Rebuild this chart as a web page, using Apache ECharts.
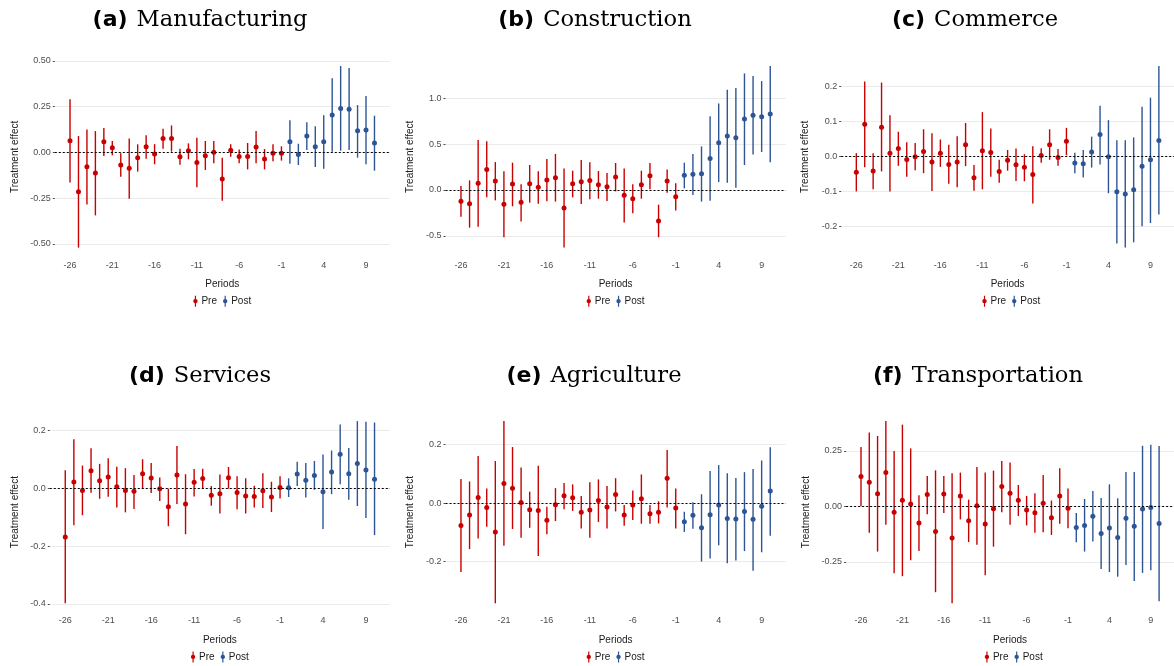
<!DOCTYPE html>
<html>
<head>
<meta charset="utf-8">
<script src="https://cdn.jsdelivr.net/npm/echarts@6/dist/echarts.min.js"></script>
<style>html,body{margin:0;padding:0;background:#fff;}#c{width:1174px;height:666px;}</style>
</head>
<body>
<div id="c"></div>
<script>
const periods = [-26,-25,-24,-23,-22,-21,-20,-19,-18,-17,-16,-15,-14,-13,-12,-11,-10,-9,-8,-7,-6,-5,-4,-3,-2,-1,0,1,2,3,4,5,6,7,8,9,10];
const xTicks = [-26,-21,-16,-11,-6,-1,4,9];

const titleLetters = ['(a)','(b)','(c)','(d)','(e)','(f)'];
const titleNames = ['Manufacturing','Construction','Commerce','Services','Agriculture','Transportation'];
const groupNames = ['Pre','Post'];

// (a) Manufacturing
const aEst = [0.064,-0.215,-0.078,-0.113,0.058,0.025,-0.069,-0.087,-0.029,0.031,-0.009,0.076,0.076,-0.024,0.009,-0.055,-0.018,0.0,-0.145,0.011,-0.022,-0.022,0.029,-0.036,-0.005,-0.005,0.058,-0.011,0.089,0.031,0.058,0.204,0.24,0.236,0.118,0.122,0.051];
const aLo  = [-0.165,-0.52,-0.284,-0.344,-0.02,-0.016,-0.133,-0.253,-0.105,-0.035,-0.065,0.02,0.004,-0.067,-0.038,-0.19,-0.096,-0.06,-0.264,-0.024,-0.06,-0.093,-0.06,-0.093,-0.049,-0.045,-0.062,-0.069,0.013,-0.08,-0.089,0.004,0.009,0.013,-0.029,-0.065,-0.1];
const aHi  = [0.29,0.089,0.125,0.116,0.133,0.062,-0.005,0.076,0.044,0.093,0.045,0.129,0.147,0.02,0.049,0.08,0.062,0.062,-0.029,0.044,0.015,0.051,0.116,0.018,0.044,0.033,0.175,0.047,0.165,0.142,0.202,0.404,0.471,0.46,0.258,0.307,0.2];
const aTicks = [-0.5,-0.25,0,0.25,0.5];

// (b) Construction
const bEst = [-0.124,-0.149,0.073,0.225,0.098,-0.156,0.065,-0.135,0.069,0.029,0.109,0.135,-0.196,0.069,0.091,0.105,0.058,0.036,0.142,-0.058,-0.095,0.058,0.156,-0.338,0.098,-0.073,0.16,0.171,0.178,0.345,0.516,0.589,0.571,0.775,0.815,0.8,0.829];
const bLo  = [-0.291,-0.411,-0.4,-0.08,-0.113,-0.516,-0.178,-0.345,-0.138,-0.149,-0.124,-0.127,-0.629,-0.08,-0.153,-0.102,-0.095,-0.12,-0.015,-0.356,-0.255,-0.095,0.007,-0.516,-0.029,-0.225,0.018,-0.055,-0.127,-0.116,0.087,0.08,0.025,0.273,0.389,0.415,0.302];
const bHi  = [0.044,0.105,0.545,0.531,0.305,0.204,0.298,0.062,0.273,0.204,0.338,0.393,0.236,0.211,0.327,0.302,0.207,0.185,0.295,0.236,0.062,0.211,0.295,-0.16,0.225,0.073,0.298,0.393,0.476,0.804,0.945,1.095,1.113,1.273,1.244,1.189,1.353];
const bTicks = [-0.5,0,0.5,1.0];

// (c) Commerce
const cEst = [-0.045,0.091,-0.042,0.083,0.009,0.022,-0.009,-0.001,0.014,-0.016,0.009,-0.023,-0.016,0.033,-0.061,0.016,0.011,-0.043,-0.011,-0.024,-0.031,-0.052,0.002,0.033,-0.003,0.043,-0.019,-0.021,0.012,0.062,-0.001,-0.101,-0.107,-0.095,-0.028,-0.01,0.045];
const cLo  = [-0.1,-0.031,-0.094,-0.043,-0.1,-0.027,-0.058,-0.04,-0.048,-0.099,-0.03,-0.078,-0.088,-0.028,-0.098,-0.094,-0.058,-0.075,-0.041,-0.07,-0.071,-0.134,-0.018,-0.01,-0.027,0.003,-0.048,-0.06,-0.032,-0.023,-0.105,-0.248,-0.26,-0.245,-0.199,-0.19,-0.166];
const cHi  = [0.009,0.213,0.009,0.21,0.117,0.07,0.04,0.038,0.077,0.066,0.048,0.033,0.057,0.095,-0.025,0.126,0.079,-0.01,0.018,0.022,0.006,0.029,0.023,0.077,0.021,0.081,0.01,0.018,0.056,0.144,0.103,0.046,0.046,0.054,0.141,0.167,0.257];
const cTicks = [-0.2,-0.1,0,0.1,0.2];

// (d) Services
const dEst = [-0.168,0.022,-0.007,0.061,0.026,0.039,0.006,-0.007,-0.01,0.051,0.036,-0.001,-0.064,0.046,-0.054,0.021,0.034,-0.024,-0.019,0.037,-0.014,-0.026,-0.028,-0.008,-0.03,0.003,0.002,0.05,0.028,0.045,-0.012,0.057,0.118,0.051,0.086,0.064,0.032];
const dLo  = [-0.398,-0.128,-0.093,-0.015,-0.036,-0.029,-0.066,-0.083,-0.071,0.0,-0.016,-0.044,-0.131,-0.054,-0.159,-0.028,-0.002,-0.06,-0.087,-0.001,-0.072,-0.087,-0.066,-0.068,-0.082,-0.035,-0.03,0.008,-0.032,-0.005,-0.141,-0.02,0.014,-0.039,-0.061,-0.103,-0.162];
const dHi  = [0.063,0.17,0.079,0.139,0.085,0.104,0.075,0.07,0.046,0.101,0.088,0.038,-0.001,0.147,0.049,0.067,0.068,0.008,0.048,0.074,0.042,0.035,0.009,0.052,0.023,0.042,0.035,0.092,0.088,0.095,0.117,0.131,0.221,0.14,0.233,0.231,0.228];
const dTicks = [-0.4,-0.2,0,0.2];

// (e) Agriculture
const eEst = [-0.077,-0.041,0.019,-0.015,-0.099,0.067,0.051,0.002,-0.023,-0.026,-0.059,-0.006,0.025,0.018,-0.032,-0.024,0.009,-0.014,0.029,-0.041,-0.007,0.015,-0.037,-0.032,0.085,-0.017,-0.064,-0.042,-0.085,-0.04,-0.007,-0.053,-0.055,-0.029,-0.056,-0.011,0.041];
const eLo  = [-0.237,-0.158,-0.122,-0.081,-0.344,-0.147,-0.089,-0.119,-0.085,-0.182,-0.107,-0.062,-0.021,-0.027,-0.087,-0.119,-0.065,-0.087,-0.029,-0.078,-0.058,-0.071,-0.071,-0.07,-0.015,-0.087,-0.099,-0.088,-0.201,-0.19,-0.145,-0.207,-0.197,-0.165,-0.232,-0.169,-0.112];
const eHi  = [0.082,0.074,0.161,0.05,0.144,0.281,0.192,0.122,0.039,0.128,-0.013,0.051,0.069,0.064,0.024,0.071,0.081,0.058,0.085,-0.007,0.043,0.098,-0.007,0.006,0.182,0.05,-0.03,0.003,0.03,0.11,0.13,0.102,0.086,0.106,0.117,0.146,0.191];
const eTicks = [-0.2,0,0.2];

// (f) Transportation
const fEst = [0.134,0.108,0.057,0.152,-0.027,0.027,0.011,-0.075,0.053,-0.113,0.056,-0.143,0.047,-0.065,0.003,-0.08,-0.011,0.089,0.059,0.027,-0.017,-0.029,0.014,-0.051,0.047,-0.009,-0.095,-0.086,-0.045,-0.122,-0.098,-0.14,-0.054,-0.09,-0.012,-0.005,-0.077];
const fLo  = [0.0,-0.119,-0.204,-0.083,-0.302,-0.315,-0.243,-0.201,-0.036,-0.387,-0.03,-0.437,-0.059,-0.161,-0.173,-0.311,-0.182,-0.027,-0.083,-0.044,-0.086,-0.119,-0.117,-0.129,-0.078,-0.099,-0.162,-0.204,-0.159,-0.282,-0.296,-0.317,-0.264,-0.336,-0.3,-0.288,-0.428];
const fHi  = [0.267,0.333,0.317,0.384,0.249,0.368,0.261,0.05,0.137,0.162,0.137,0.149,0.152,0.03,0.177,0.152,0.161,0.204,0.198,0.096,0.047,0.059,0.141,0.026,0.171,0.08,-0.03,0.033,0.069,0.038,0.099,0.036,0.155,0.155,0.273,0.278,0.272];
const fTicks = [-0.25,0,0.25];

const panelData = [
  {est:aEst, lo:aLo, hi:aHi, ticks:aTicks, dec:2},
  {est:bEst, lo:bLo, hi:bHi, ticks:bTicks, dec:1},
  {est:cEst, lo:cLo, hi:cHi, ticks:cTicks, dec:1},
  {est:dEst, lo:dLo, hi:dHi, ticks:dTicks, dec:1},
  {est:eEst, lo:eLo, hi:eHi, ticks:eTicks, dec:1},
  {est:fEst, lo:fLo, hi:fHi, ticks:fTicks, dec:2}
];

// ---- layout (pixels) ----
const layout = [
  {left:54.8,  width:334.9, top:57,  height:199.7, nameGap:35, titleX:200},
  {left:445.5, width:340.2, top:57,  height:199.7, nameGap:30, titleX:595},
  {left:841.2, width:340.2, top:57,  height:199.7, nameGap:31, titleX:975},
  {left:49.8,  width:340.2, top:412, height:200.4, nameGap:30, titleX:200},
  {left:445.5, width:340.2, top:412, height:200.4, nameGap:30, titleX:594},
  {left:846.1, width:335.3, top:412, height:200.4, nameGap:35, titleX:978}
];
const titleTops = [9, 365];
const RED = '#C80000', BLUE = '#2D5596';
const FONT = 'Liberation Sans';
const LEGEND_ICON = 'path://M4.3,0 L5.7,0 L5.7,4 A2.6,2.6 0 0 1 5.7,9 L5.7,13 L4.3,13 L4.3,9 A2.6,2.6 0 0 1 4.3,4 Z';

function renderBar(params, api) {
  const x = api.value(0);
  const p1 = api.coord([x, api.value(1)]);
  const p2 = api.coord([x, api.value(2)]);
  return {type:'line', shape:{x1:p1[0], y1:p1[1], x2:p2[0], y2:p2[1]},
          style:{stroke: api.visual('color'), lineWidth: 1.4}};
}

const grids = [], xAxes = [], yAxes = [], series = [], titles = [], legends = [];
panelData.forEach((pd, i) => {
  const L = layout[i];
  grids.push({left:L.left, width:L.width, top:L.top, height:L.height, containLabel:false});
  const lmin = Math.min(...pd.lo), lmax = Math.max(...pd.hi);
  const pad = (lmax - lmin) * 0.05;
  xAxes.push({
    type:'value', gridIndex:i, min:-27.8, max:11.8,
    axisLine:{show:false, onZero:false}, splitLine:{show:false},
    axisTick:{show:false, customValues:xTicks},
    axisLabel:{customValues:xTicks, color:'#4D4D4D', fontSize:9, fontFamily:FONT, margin:4},
    name:'Periods', nameLocation:'middle', nameGap:23,
    nameTextStyle:{color:'#1A1A1A', fontSize:10, fontFamily:FONT}
  });
  yAxes.push({
    type:'value', gridIndex:i, min:lmin - pad, max:lmax + pad,
    axisLine:{show:false, onZero:false},
    axisTick:{show:true, length:2, customValues:pd.ticks, lineStyle:{color:'#4D4D4D', width:1}},
    axisLabel:{customValues:pd.ticks, color:'#4D4D4D', fontSize:9, fontFamily:FONT, margin:4,
               formatter:(v) => Number(v).toFixed(pd.dec)},
    splitLine:{show:true, lineStyle:{color:'#EBEBEB', width:1}},
    name:'Treatment effect', nameLocation:'middle', nameGap:L.nameGap, nameRotate:90,
    nameTextStyle:{color:'#1A1A1A', fontSize:10, fontFamily:FONT}
  });
  const groups = [
    {name:groupNames[0], color:RED, test:(p) => p < 0},
    {name:groupNames[1], color:BLUE, test:(p) => p >= 0}
  ];
  groups.forEach((g, gi) => {
    const bars = [], pts = [];
    periods.forEach((p, k) => {
      if (g.test(p)) { bars.push([p, pd.lo[k], pd.hi[k]]); pts.push([p, pd.est[k]]); }
    });
    series.push({
      type:'custom', name:g.name, xAxisIndex:i, yAxisIndex:i, color:g.color,
      renderItem:renderBar, data:bars, encode:{x:0, y:[1,2]}, silent:true, animation:false, z:3,
      markLine: gi === 0 ? {silent:true, symbol:['none','none'], label:{show:false},
        lineStyle:{type:[2,2], color:'#000', width:1}, data:[{yAxis:0}], animation:false} : undefined
    });
    series.push({
      type:'scatter', name:g.name, xAxisIndex:i, yAxisIndex:i, color:g.color,
      symbol:'circle', symbolSize:5, data:pts, silent:true, animation:false, z:4,
      itemStyle:{color:g.color, opacity:1}
    });
  });
  titles.push({
    text:'{b|' + titleLetters[i] + '} {n|' + titleNames[i] + '}',
    left:L.titleX, top:titleTops[i < 3 ? 0 : 1], textAlign:'center', padding:0,
    textStyle:{fontWeight:'normal', rich:{
      b:{fontFamily:'DejaVu Sans', fontWeight:'bold', fontSize:22, color:'#000'},
      n:{fontFamily:'DejaVu Serif', fontWeight:'normal', fontSize:22.6, color:'#000', padding:[0,0,0,4]}
    }}
  });
  const cx = L.left + L.width / 2;
  legends.push({
    data:groupNames.map(n => ({name:n, icon:LEGEND_ICON})),
    left:cx - 29, top:L.top + L.height + 39,
    itemWidth:6, itemHeight:11, itemGap:6, padding:0, selectedMode:false,
    textStyle:{color:'#1A1A1A', fontSize:10, fontFamily:FONT, padding:[0,0,0,-2]}
  });
});

const chart = echarts.init(document.getElementById('c'), null, {renderer:'canvas'});
chart.setOption({
  animation:false,
  backgroundColor:'#fff',
  textStyle:{fontFamily:FONT},
  title:titles, legend:legends, grid:grids, xAxis:xAxes, yAxis:yAxes, series:series
});
</script>
</body>
</html>
